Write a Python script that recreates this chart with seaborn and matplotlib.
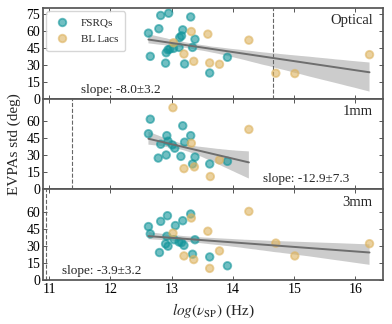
import numpy as np
import pandas as pd
import matplotlib
matplotlib.use("Agg")
import matplotlib.pyplot as plt
from matplotlib.collections import PolyCollection
import seaborn as sns

# ---- data ----
opt_fsrq_x = [12.62, 12.65, 12.79, 12.82, 12.95, 12.90, 12.91, 12.94, 12.97, 13.03,
              13.12, 13.13, 13.16, 13.18, 13.21, 13.31, 13.34, 13.38, 13.62, 13.91]
opt_fsrq_y = [57.9, 37.4, 61.8, 73.5, 75.5, 31.4, 40.6, 43.2, 43.8, 44.4,
              45.3, 54.0, 55.5, 60.8, 30.7, 72.2, 45.3, 52.5, 22.7, 36.6]
opt_bll_x = [13.03, 13.32, 13.20, 13.36, 13.59, 13.62, 13.78, 14.26, 14.70, 15.01, 16.23]
opt_bll_y = [49.4, 59.3, 39.5, 33.0, 57.0, 31.6, 30.4, 51.7, 22.5, 22.2, 38.9]

mm1_fsrq_x = [12.65, 12.62, 12.82, 12.78, 12.91, 12.92, 12.94, 13.01, 13.05, 13.15,
              13.18, 13.21, 13.31, 13.38, 13.34, 13.62, 13.91]
mm1_fsrq_y = [61.9, 49.1, 39.8, 27.6, 30.3, 47.4, 42.5, 39.2, 36.3, 29.1,
              56.1, 41.6, 47.4, 28.5, 22.4, 22.4, 24.7]
mm1_bll_x = [13.02, 13.32, 13.20, 13.37, 13.63, 13.78, 14.26]
mm1_bll_y = [72.1, 40.7, 18.3, 19.8, 11.3, 25.9, 52.9]

mm3_fsrq_x = [12.62, 12.65, 12.82, 12.93, 12.80, 12.90, 12.94, 12.92, 13.06, 13.18,
              13.31, 13.04, 13.12, 13.16, 13.20, 13.38, 13.34, 13.62, 13.91]
mm3_fsrq_y = [47.1, 40.7, 51.7, 56.7, 24.2, 31.8, 29.8, 38.6, 48.0, 52.3,
              58.2, 35.5, 33.5, 33.0, 30.5, 35.5, 22.7, 20.3, 12.5]
mm3_bll_x = [13.02, 13.32, 13.20, 13.36, 13.59, 13.62, 13.78, 14.26, 14.70, 15.01, 16.23]
mm3_bll_y = [41.3, 54.7, 21.2, 18.0, 43.0, 10.2, 25.6, 60.5, 32.5, 21.2, 32.0]

bands = ["Optical", "1mm", "3mm"]
slope_texts = ["slope: -8.0\u00b13.2", "slope: -12.9\u00b17.3", "slope: -3.9\u00b13.2"]
limit_x = [14.66, 11.37, 10.95]
classes = ["FSRQs", "BL Lacs"]

panels = [
    (opt_fsrq_x, opt_fsrq_y, opt_bll_x, opt_bll_y),
    (mm1_fsrq_x, mm1_fsrq_y, mm1_bll_x, mm1_bll_y),
    (mm3_fsrq_x, mm3_fsrq_y, mm3_bll_x, mm3_bll_y),
]

# ---- style ----
sns.set_theme(style="ticks")
plt.rcParams["font.family"] = ["Liberation Serif", "DejaVu Serif"]
plt.rcParams["mathtext.fontset"] = "stix"
plt.rcParams["xtick.direction"] = "in"
plt.rcParams["ytick.direction"] = "in"
plt.rcParams["xtick.top"] = True
plt.rcParams["ytick.right"] = True
plt.rcParams["axes.edgecolor"] = "#555555"
plt.rcParams["xtick.color"] = "#555555"
plt.rcParams["ytick.color"] = "#555555"
plt.rcParams["xtick.labelcolor"] = "black"
plt.rcParams["ytick.labelcolor"] = "black"

palette = {"FSRQs": "#12959a", "BL Lacs": "#ddb35f"}

fig, axes = plt.subplots(3, 1, figsize=(3.92, 3.24), dpi=100, sharex=True)
fig.subplots_adjust(left=0.11, right=0.977, top=0.975, bottom=0.136, hspace=0)

slope_pos = [(0.11, 0.10, "left"), (0.647, 0.11, "left"), (0.055, 0.10, "left")]

for i, (ax, (fx, fy, bx, by)) in enumerate(zip(axes, panels)):
    df = pd.DataFrame({
        "x": list(fx) + list(bx),
        "y": list(fy) + list(by),
        "cls": [classes[0]] * len(fx) + [classes[1]] * len(bx),
    })
    sns.scatterplot(data=df, x="x", y="y", hue="cls", hue_order=classes,
                    palette=palette, s=30, alpha=0.6, linewidth=1.3,
                    ax=ax, legend=(i == 0), zorder=2)
    for coll in ax.collections:
        coll.set_edgecolor(coll.get_facecolor())
    sns.regplot(data=df, x="x", y="y", scatter=False, ax=ax, ci=68, seed=0,
                color="#6e6e6e", line_kws={"lw": 1.4, "zorder": 3})
    for coll in ax.collections:
        if isinstance(coll, PolyCollection):
            coll.set_alpha(0.35)
            coll.set_edgecolor("none")
    ax.axvline(limit_x[i], color="#666666", ls="--", lw=0.8, zorder=1)
    ax.set_xlim(10.9, 16.45)
    ax.set_ylim(0, 80)
    if i == 0:
        ax.set_yticks([0, 15, 30, 45, 60, 75])
    else:
        ax.set_yticks([0, 15, 30, 45, 60])
    ax.set_xticks([11, 12, 13, 14, 15, 16])
    ax.tick_params(labelsize=10, length=3, width=0.7, pad=2)
    ax.set_xlabel("")
    ax.set_ylabel("")
    ax.text(0.97, 0.86, bands[i], transform=ax.transAxes, ha="right",
            va="center", fontsize=10.5)
    sx, sy, ha = slope_pos[i]
    ax.text(sx, sy, slope_texts[i], transform=ax.transAxes, ha=ha,
            va="center", fontsize=9.5)
    if i == 0:
        leg = ax.legend(loc="upper left", fontsize=8, frameon=True,
                        handletextpad=0.9, borderpad=0.6, labelspacing=0.6,
                        borderaxespad=0.3, handlelength=1.6)
        leg.get_frame().set_edgecolor("#cccccc")
        for h in leg.legend_handles:
            try:
                h.set_alpha(0.6)
                h.set_markeredgecolor(h.get_markerfacecolor())
                h.set_markeredgewidth(1.3)
            except Exception:
                pass

axes[1].set_ylabel("EVPAs std (deg)", fontsize=11)
axes[2].set_xlabel(r"$log(\nu_{\rm SP})$ (Hz)", fontsize=11)

fig.savefig("out.png", dpi=100)
